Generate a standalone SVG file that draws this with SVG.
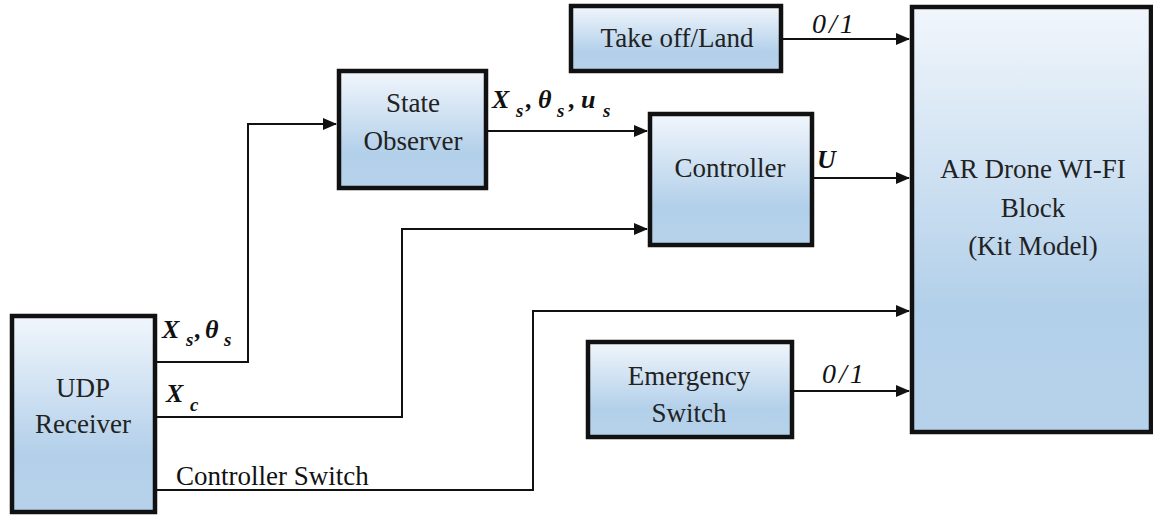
<svg xmlns="http://www.w3.org/2000/svg" width="1153" height="516" viewBox="0 0 1153 516">
<defs>
<linearGradient id="bg" x1="0" y1="0" x2="0" y2="1">
<stop offset="0" stop-color="#f1f6fc"/>
<stop offset="0.7" stop-color="#b3d0ea"/>
<stop offset="1" stop-color="#b6d2eb"/>
</linearGradient>
<marker id="ah" viewBox="0 0 14 12" refX="13" refY="6" markerWidth="14" markerHeight="12" markerUnits="userSpaceOnUse" orient="auto">
<path d="M0,0 L14,6 L0,12 Z" fill="#111"/>
</marker>
</defs>
<style>
.box{fill:url(#bg);stroke:#111;stroke-width:4.5}
.t{font-family:"Liberation Serif","Times New Roman",serif;font-size:27px;fill:#222;text-anchor:middle}
.lbl{font-family:"Liberation Serif","Times New Roman",serif;font-size:27px;fill:#111}
.m{font-family:"Liberation Serif","Times New Roman",serif;font-size:26px;font-weight:bold;font-style:italic;fill:#111}
.s{font-family:"Liberation Serif","Times New Roman",serif;font-size:19px;font-weight:bold;font-style:italic;fill:#111}
.n{font-family:"Liberation Serif","Times New Roman",serif;font-size:28px;font-style:italic;fill:#111;letter-spacing:3px}
.c{fill:none;stroke:#111;stroke-width:2}
</style>
<rect width="1153" height="516" fill="#fff"/>
<g id="connectors">
<polyline class="c" points="156,362 248,362 248,124 336,124" marker-end="url(#ah)"/>
<polyline class="c" points="156,417 402,417 402,229 647,229" marker-end="url(#ah)"/>
<polyline class="c" points="156,490 533,490 533,311 909,311" marker-end="url(#ah)"/>
<line class="c" x1="487" y1="131" x2="647" y2="131" marker-end="url(#ah)"/>
<line class="c" x1="813" y1="178" x2="909" y2="178" marker-end="url(#ah)"/>
<line class="c" x1="782" y1="39" x2="909" y2="39" marker-end="url(#ah)"/>
<line class="c" x1="793" y1="391" x2="909" y2="391" marker-end="url(#ah)"/>
<text class="m" x="162" y="338">X</text><text class="s" x="186" y="346">s</text><text class="m" x="195" y="338">,</text><text class="m" x="205" y="338">θ</text><text class="s" x="224" y="346">s</text>
<text class="m" x="166" y="402">X</text><text class="s" x="190" y="411">c</text>
<text class="lbl" x="176" y="485">Controller Switch</text>
<text class="m" x="492" y="108">X</text><text class="s" x="516" y="117">s</text><text class="m" x="526" y="108">,</text><text class="m" x="538" y="108">θ</text><text class="s" x="557" y="117">s</text><text class="m" x="569" y="108">,</text><text class="m" x="581" y="108">u</text><text class="s" x="603" y="117">s</text>
<text class="m" x="817" y="168">U</text>
<text class="n" x="812" y="33">0/1</text>
<text class="n" x="822" y="383">0/1</text>
</g>
<g id="udp">
<rect class="box" x="12" y="316" width="143" height="196"/>
<text class="t" x="83" y="397">UDP</text>
<text class="t" x="83" y="433">Receiver</text>
</g>
<g id="observer">
<rect class="box" x="339" y="71" width="147" height="117"/>
<text class="t" x="413" y="112">State</text>
<text class="t" x="413" y="150">Observer</text>
</g>
<g id="controller">
<rect class="box" x="650" y="114" width="162" height="131"/>
<text class="t" x="730" y="177">Controller</text>
</g>
<g id="takeoff">
<rect class="box" x="571" y="6" width="210" height="65"/>
<text class="t" x="677" y="47">Take off/Land</text>
</g>
<g id="emergency">
<rect class="box" x="588" y="342" width="204" height="95"/>
<text class="t" x="689" y="385">Emergency</text>
<text class="t" x="689" y="422">Switch</text>
</g>
<g id="ardrone">
<rect class="box" x="912" y="7" width="239" height="425"/>
<text class="t" x="1033" y="178">AR Drone WI-FI</text>
<text class="t" x="1033" y="217">Block</text>
<text class="t" x="1033" y="255">(Kit Model)</text>
</g>
</svg>
